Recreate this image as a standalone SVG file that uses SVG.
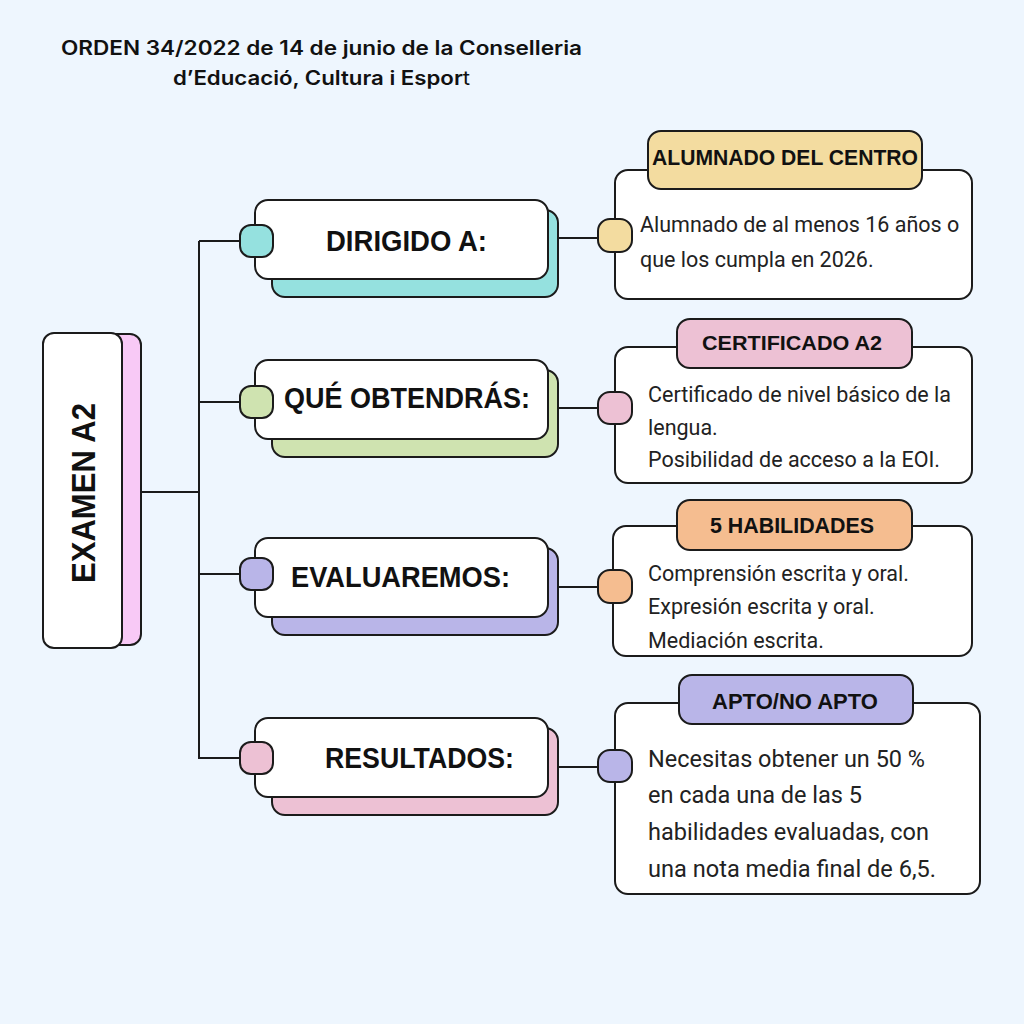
<svg xmlns="http://www.w3.org/2000/svg" width="1024" height="1024" viewBox="0 0 1024 1024">
<style>
.bg{fill:#EEF6FE}
.box{fill:#FFFFFF;stroke:#1B1B1B;stroke-width:2}
.sh{stroke:#1B1B1B;stroke-width:2}
.ln{stroke:#1B1B1B;stroke-width:2;fill:none}
.hand{font-family:"Liberation Sans","DejaVu Sans",sans-serif;font-weight:700;fill:#111111}
.body{font-family:Roboto,"Liberation Sans",sans-serif;font-size:21.5px;fill:#222222}
.big{font-size:24px}
.title{font-family:Inter,"Liberation Sans",sans-serif;font-weight:600;font-size:19.5px;fill:#111111}
.teal{fill:#95E1DF}.green{fill:#CFE3B0}.lav{fill:#B9B5E8}.pink{fill:#EDC1D4}.yel{fill:#F3DCA0}.orng{fill:#F5BD90}.mpink{fill:#F8C9F6}
</style>
<rect class="bg" x="0" y="0" width="1024" height="1024"/>

<g id="title">
<text class="title" x="61" y="55" textLength="521" lengthAdjust="spacingAndGlyphs">ORDEN 34/2022 de 14 de junio de la Conselleria</text>
<text class="title" x="173" y="85" textLength="297" lengthAdjust="spacingAndGlyphs">d’Educació, Cultura i Espor<tspan font-weight="400">t</tspan></text>
</g>

<g id="connectors">
<path class="ln" d="M141 492 H199 M199 241 V759 M199 241 H242 M199 402 H242 M199 574 H242 M199 758 H242"/>
<path class="ln" d="M558 238 H600 M558 408 H600 M558 587 H600 M558 767 H600"/>
</g>

<g id="node-examen">
<rect class="sh mpink" x="62" y="334" width="79" height="311" rx="11"/>
<rect class="box" x="43" y="333" width="79" height="315" rx="11"/>
<text class="hand" transform="translate(95,493) rotate(-90)" font-size="34" text-anchor="middle" textLength="180" lengthAdjust="spacingAndGlyphs">EXAMEN A2</text>
</g>

<g id="node-dirigido">
<rect class="sh teal" x="272" y="210" width="286" height="87" rx="13"/>
<rect class="box" x="255" y="200" width="293" height="79" rx="13"/>
<rect class="sh teal" x="240" y="225" width="33" height="32" rx="11"/>
<text class="hand" x="326" y="251" font-size="29" textLength="161" lengthAdjust="spacingAndGlyphs">DIRIGIDO A:</text>
</g>

<g id="node-obtendras">
<rect class="sh green" x="272" y="370" width="286" height="87" rx="13"/>
<rect class="box" x="255" y="360" width="293" height="79" rx="13"/>
<rect class="sh green" x="240" y="386" width="33" height="32" rx="11"/>
<text class="hand" x="284" y="408" font-size="29" textLength="246" lengthAdjust="spacingAndGlyphs">QUÉ OBTENDRÁS:</text>
</g>

<g id="node-evaluaremos">
<rect class="sh lav" x="272" y="548" width="286" height="87" rx="13"/>
<rect class="box" x="255" y="538" width="293" height="79" rx="13"/>
<rect class="sh lav" x="240" y="558" width="33" height="32" rx="11"/>
<text class="hand" x="291" y="587" font-size="29" textLength="219" lengthAdjust="spacingAndGlyphs">EVALUAREMOS:</text>
</g>

<g id="node-resultados">
<rect class="sh pink" x="272" y="728" width="286" height="87" rx="13"/>
<rect class="box" x="255" y="718" width="293" height="79" rx="13"/>
<rect class="sh pink" x="240" y="742" width="33" height="32" rx="11"/>
<text class="hand" x="325" y="768" font-size="29" textLength="189" lengthAdjust="spacingAndGlyphs">RESULTADOS:</text>
</g>

<g id="node-alumnado">
<rect class="box" x="615" y="170" width="357" height="129" rx="13"/>
<rect class="sh yel" x="648" y="131" width="274" height="58" rx="13"/>
<text class="hand" x="652" y="165" font-size="22" textLength="266" lengthAdjust="spacingAndGlyphs">ALUMNADO DEL CENTRO</text>
<rect class="sh yel" x="598" y="219" width="34" height="33" rx="12"/>
<text class="body" x="640" y="232">Alumnado de al menos 16 años o</text>
<text class="body" x="640" y="267">que los cumpla en 2026.</text>
</g>

<g id="node-certificado">
<rect class="box" x="615" y="347" width="357" height="136" rx="13"/>
<rect class="sh pink" x="677" y="319" width="235" height="49" rx="13"/>
<text class="hand" x="702" y="350" font-size="21" textLength="180" lengthAdjust="spacingAndGlyphs">CERTIFICADO A2</text>
<rect class="sh pink" x="598" y="392" width="34" height="32" rx="12"/>
<text class="body" x="648" y="402">Certificado de nivel básico de la</text>
<text class="body" x="648" y="435">lengua.</text>
<text class="body" x="648" y="467">Posibilidad de acceso a la EOI.</text>
</g>

<g id="node-habilidades">
<rect class="box" x="613" y="526" width="359" height="130" rx="13"/>
<rect class="sh orng" x="677" y="500" width="235" height="50" rx="13"/>
<text class="hand" x="710" y="533" font-size="22" textLength="164" lengthAdjust="spacingAndGlyphs">5 HABILIDADES</text>
<rect class="sh orng" x="598" y="570" width="34" height="33" rx="12"/>
<text class="body" x="648" y="581">Comprensión escrita y oral.</text>
<text class="body" x="648" y="614">Expresión escrita y oral.</text>
<text class="body" x="648" y="648">Mediación escrita.</text>
</g>

<g id="node-apto">
<rect class="box" x="615" y="703" width="365" height="191" rx="13"/>
<rect class="sh lav" x="679" y="675" width="234" height="49" rx="13"/>
<text class="hand" x="712" y="709" font-size="22" textLength="166" lengthAdjust="spacingAndGlyphs">APTO/NO APTO</text>
<rect class="sh lav" x="598" y="750" width="34" height="32" rx="12"/>
<text class="body big" x="648" y="767" textLength="277" lengthAdjust="spacingAndGlyphs">Necesitas obtener un 50 %</text>
<text class="body big" x="648" y="803" textLength="214" lengthAdjust="spacingAndGlyphs">en cada una de las 5</text>
<text class="body big" x="648" y="840" textLength="281" lengthAdjust="spacingAndGlyphs">habilidades evaluadas, con</text>
<text class="body big" x="648" y="877" textLength="288" lengthAdjust="spacingAndGlyphs">una nota media final de 6,5.</text>
</g>
</svg>
